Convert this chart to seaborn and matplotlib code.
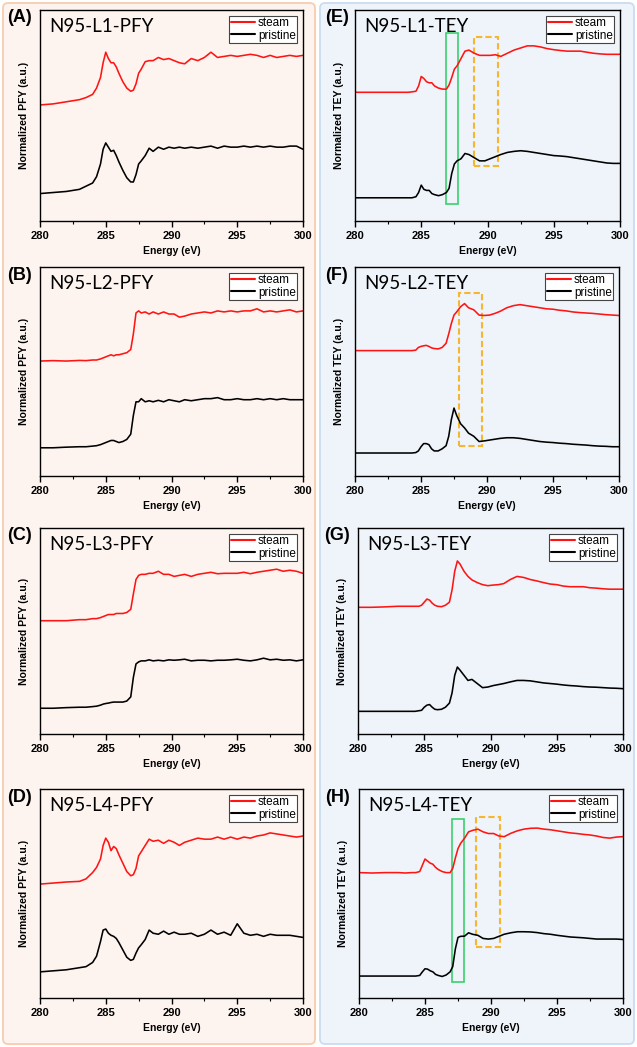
import pandas as pd
import matplotlib
matplotlib.use("Agg")
import matplotlib.pyplot as plt
import seaborn as sns
from matplotlib.patches import FancyBboxPatch, Rectangle
from matplotlib.ticker import MultipleLocator

# --- data (normalized intensity, % of axis height) ---
ENERGY = [280, 281, 282, 283, 283.5, 284, 284.3, 284.6, 284.8, 285, 285.2, 285.4, 285.6, 285.8,
          286, 286.3, 286.6, 286.9, 287.1, 287.3, 287.5, 287.7, 288, 288.3, 288.6, 289, 289.4,
          289.8, 290.2, 290.6, 291, 291.5, 292, 292.5, 293, 293.5, 294, 294.5, 295, 295.5, 296,
          296.5, 297, 297.5, 298, 298.5, 299, 299.5, 300]

A_STEAM = [55, 55.5, 56.5, 57.5, 58.5, 60, 63, 68, 75, 80, 77, 75, 75, 73, 70, 66, 63, 61.5, 62, 65,
           70, 72, 75.5, 76, 76, 77.5, 76.5, 77, 76, 75, 74.5, 77, 76, 77.5, 80, 77.5, 78, 78.5, 78,
           78.5, 79, 78.5, 77.5, 78.5, 77.5, 78, 78.5, 78, 78.5]
A_PRISTINE = [13, 13.5, 14, 15, 16.5, 18, 21, 27, 34, 37, 35, 33, 33.5, 31, 28, 24, 20.5, 18.5, 18.5,
              22, 27, 28.5, 31, 34.5, 33, 35, 34, 35, 34.5, 35, 34.5, 35, 34.5, 35, 35.5, 34.5, 35.5,
              35, 35, 35.5, 35, 35.5, 35, 35.5, 35, 35, 35.5, 35.5, 34]

B_STEAM = [55, 55.2, 55, 55.3, 55.2, 55.5, 55.5, 56, 56.5, 57, 57.5, 58, 57.5, 58, 58, 58.5, 59, 60.5,
           68, 78, 79, 78, 78.5, 77.5, 78.5, 77.5, 78.5, 77.5, 77.5, 76, 76.5, 77.5, 78, 78.5, 78,
           79, 78.5, 79, 78.5, 79, 79, 80, 78.5, 79, 78.5, 79, 79.5, 78.5, 79]
B_PRISTINE = [13.5, 13.5, 13.8, 14, 14, 14.3, 14.5, 15, 15.5, 16, 16.5, 17, 17, 16.5, 16, 16.5, 17.5,
              20, 29, 35.5, 35.5, 37, 35.5, 36, 35.5, 36.2, 35.5, 36.5, 36, 35.5, 36.5, 36, 36.5, 37,
              37, 37.5, 36.5, 36.5, 37, 36.5, 36.5, 37, 36.5, 37, 36.5, 37, 36.5, 36.5, 36.5]

C_STEAM = [55, 55, 55, 55.5, 55.5, 56, 56, 56.5, 57, 57.5, 58, 58, 58, 58.5, 58.5, 58.5, 59, 60.5, 68,
           75, 77, 77.5, 77.5, 78, 78, 79, 77.5, 77.5, 76.5, 77, 77.5, 76.5, 77.5, 78, 78.5, 77.8,
           78, 78, 78, 78.5, 77.8, 78.5, 79, 79.5, 80, 79, 79.5, 79, 78]
C_PRISTINE = [12.5, 12.5, 12.8, 13, 13, 13.3, 13.5, 14, 14.5, 14.8, 15, 15.3, 15.5, 15.5, 15.5, 15.5,
              16, 18, 27.5, 34, 35, 35.5, 35.5, 36, 35.5, 35.8, 35.5, 36, 35.8, 36, 36.3, 35.5, 35.8,
              35.8, 35.5, 35.8, 35.8, 36, 36.3, 35.8, 35.5, 36, 36.8, 36, 36.3, 35.8, 36, 35.5, 36]

D_STEAM = [54.5, 55, 55.5, 55.8, 57, 60, 62.5, 66.5, 73, 76.5, 74.5, 70.5, 72.5, 71.5, 68.5, 64.5,
           60.5, 58.5, 59, 62, 68, 70, 73, 76, 75, 75.5, 74, 75.5, 74.5, 73, 74.5, 75.5, 76.5, 76,
           76, 77, 76, 77, 76, 77, 76.5, 77.5, 78, 79, 78.5, 78, 77.5, 77, 77.5]
D_PRISTINE = [12.5, 13, 13.5, 14.5, 15, 17, 20, 27, 32.5, 33, 31, 30, 29.5, 28.5, 26.5, 23, 19.5, 18,
              18.5, 21.5, 24, 25.5, 28, 32.5, 31, 30.5, 32, 30.5, 31.5, 30.5, 30.5, 31, 29.5, 30.5,
              32.5, 30.5, 31.5, 30, 35.5, 31, 30, 30.5, 29.5, 30.5, 30, 30, 30, 29.5, 29]

E_STEAM = [61, 61, 61, 61, 61, 61, 61.2, 61.5, 64, 68.5, 67.5, 66, 65.5, 65.5, 64, 63, 62.5, 62.5,
           64.5, 68, 72, 73.5, 77, 80.5, 81, 79.5, 78.5, 78.5, 78.5, 78.8, 78, 79.5, 81, 82, 83, 83,
           82.5, 81.7, 81.2, 80.8, 80.5, 80.5, 80.5, 80, 79.5, 79.2, 79, 79, 79]
E_PRISTINE = [11, 11, 11, 11, 11, 11, 11, 11.5, 13.5, 17, 15, 14.5, 14.5, 13, 12.5, 12, 12.5, 13.5,
              15.5, 22.5, 27, 28.5, 29.5, 32, 31.5, 30, 28.5, 28.5, 29.5, 30.5, 31.5, 32.5, 33, 33.3,
              33, 32.5, 32, 31.5, 31, 30.8, 30.5, 30, 29.5, 29, 28.5, 28, 27.5, 27.3, 27.3]

F_STEAM = [60, 60, 60, 60, 60, 60, 60, 60.2, 61.5, 62, 62.3, 62.5, 62, 61.3, 61, 60.8, 61.5, 63.5, 68,
           73, 77, 78.5, 81, 82.5, 80.5, 79.5, 77, 76.8, 77, 77.8, 78.8, 80.5, 81.5, 82, 81.5, 81,
           80.5, 80, 79.8, 79.3, 79, 78.5, 78.2, 78, 77.8, 77.5, 77.2, 77, 76.8]
F_PRISTINE = [11, 11, 11, 11, 11, 11, 11, 11.2, 12, 14, 15.5, 15.5, 15, 13, 12, 12, 13, 14.5, 19, 27,
              32.5, 29, 25, 23, 20.5, 19, 16.5, 16.8, 17.2, 17.6, 18, 18.3, 18.3, 18, 17.5, 17, 16.5,
              16.2, 16, 15.7, 15.5, 15.2, 15, 14.8, 14.5, 14.3, 14.2, 14, 14]

G_STEAM = [61.5, 61.5, 61.7, 62, 62, 62, 62, 62, 62.5, 64, 65.5, 65, 63.5, 62.5, 62, 61.8, 62.5, 64,
           70, 79, 84, 82.5, 79, 76.5, 74.8, 73.5, 72.5, 72, 72.3, 72.5, 73, 75, 76.5, 76, 75, 74.3,
           73.5, 72.8, 72.5, 71.8, 71.5, 71.5, 71.5, 71, 70.8, 70.5, 70.3, 70.3, 70.3]
G_PRISTINE = [11, 11, 11, 11, 11, 11, 11, 11.3, 11.5, 13, 14, 14.3, 13, 12, 11.8, 12, 13, 15, 20, 28.5,
              32.5, 31, 28.5, 26, 26.5, 24.5, 22.5, 22.8, 23.5, 24, 24.5, 25.3, 26, 26, 25.8, 25.3,
              24.8, 24.5, 24.2, 23.8, 23.5, 23.3, 23, 22.8, 22.7, 22.5, 22.3, 22.2, 22]

H_STEAM = [60, 59.8, 60, 60, 59.8, 60, 60, 60.5, 63.5, 66.5, 65.5, 64.5, 64, 62.5, 61.5, 60.5, 60, 60,
           62, 67, 71.5, 74, 76.5, 79.5, 80.2, 80.8, 79.5, 78.7, 78.7, 77.5, 77.2, 78.8, 80, 80.8,
           81.2, 81.3, 80.8, 80.5, 80, 79.5, 79, 78.7, 78.3, 78, 77.5, 76.8, 76.5, 77, 77.2]
H_PRISTINE = [10.5, 10.5, 10.5, 10.5, 10.5, 10.5, 10.5, 10.8, 12.5, 14, 13.8, 13, 12.5, 11.3, 10.8,
              10.3, 11, 12.5, 15, 23.5, 29, 29.5, 29.6, 31.2, 30.5, 30, 28.5, 28.2, 28.5, 29.5, 30.5,
              31.2, 31.7, 31.7, 31.6, 31.3, 30.8, 30.5, 30, 29.6, 29.2, 29, 28.8, 28.5, 28.2, 28.2,
              28.2, 28.2, 28]

# highlight boxes: (panel, x0, x1, y0, y1, kind)
BOXES = [("E", 286.9, 287.8, 7.9, 88.9, "green"), ("E", 289.0, 290.8, 26.2, 87.4, "yellow"),
         ("F", 287.9, 289.6, 14.4, 87.5, "yellow"),
         ("H", 287.05, 287.95, 7.7, 85.6, "green"), ("H", 288.85, 290.7, 24.2, 86.6, "yellow")]

PANELS = [("A", "N95-L1-PFY", "PFY", A_STEAM, A_PRISTINE, 0, 0),
          ("B", "N95-L2-PFY", "PFY", B_STEAM, B_PRISTINE, 1, 0),
          ("C", "N95-L3-PFY", "PFY", C_STEAM, C_PRISTINE, 2, 0),
          ("D", "N95-L4-PFY", "PFY", D_STEAM, D_PRISTINE, 3, 0),
          ("E", "N95-L1-TEY", "TEY", E_STEAM, E_PRISTINE, 0, 1),
          ("F", "N95-L2-TEY", "TEY", F_STEAM, F_PRISTINE, 1, 1),
          ("G", "N95-L3-TEY", "TEY", G_STEAM, G_PRISTINE, 2, 1),
          ("H", "N95-L4-TEY", "TEY", H_STEAM, H_PRISTINE, 3, 1)]

sns.set_style("ticks")
plt.rcParams['font.family'] = ['Liberation Sans', 'DejaVu Sans']
plt.rcParams.update({"text.color": "black", "axes.labelcolor": "black",
                     "xtick.color": "black", "ytick.color": "black"})

W, H = 637, 1047
fig = plt.figure(figsize=(W / 100, H / 100), dpi=100)

# background boxes for the two columns
for x0, x1, fc, ec in [(3, 315, "#fdf4ef", "#f7cdb0"), (320, 634, "#eff4fa", "#c9dcf0")]:
    fig.patches.append(FancyBboxPatch((x0 / W, 3 / H), (x1 - x0) / W, 1041 / H,
                                      boxstyle="round,pad=0,rounding_size=0.008",
                                      mutation_aspect=W / H,
                                      transform=fig.transFigure, fc=fc, ec=ec, lw=1.3,
                                      zorder=-10))

tops = [10, 267, 528, 789]
bottoms = [221, 476, 734, 998]
lefts = {"A": 40, "B": 40, "C": 40, "D": 40, "E": 355, "F": 355, "G": 358, "H": 359}
rights = {"A": 303, "B": 303, "C": 303, "D": 303, "E": 620, "F": 619, "G": 623, "H": 623}
palette = {"steam": "#ff1414", "pristine": "black"}

for key, title, mode, steam, pristine, row, col in PANELS:
    l, r = lefts[key], rights[key]
    t, b = tops[row], bottoms[row]
    ax = fig.add_axes([l / W, (H - b) / H, (r - l) / W, (b - t) / H])
    ax.set_facecolor("none")
    ax.set_zorder(5)

    n = len(ENERGY)
    df = pd.DataFrame({"Energy": ENERGY * 2, "y": steam + pristine,
                       "sample": ["steam"] * n + ["pristine"] * n})
    sns.lineplot(data=df, x="Energy", y="y", hue="sample", palette=palette,
                 lw=1.15, ax=ax, sort=True)

    for pk, x0, x1, y0, y1, kind in BOXES:
        if pk != key:
            continue
        if kind == "green":
            ax.add_patch(Rectangle((x0, y0), x1 - x0, y1 - y0, fill=False, ec="#3ccf6e", lw=1.2))
        else:
            ax.add_patch(Rectangle((x0, y0), x1 - x0, y1 - y0, fill=False, ec="#f5b731",
                                   lw=1.5, ls=(0, (3, 1.5))))

    ax.set_xlim(280, 300)
    ax.set_ylim(0, 100)
    ax.set_yticks([])
    ax.xaxis.set_major_locator(MultipleLocator(5))
    ax.xaxis.set_minor_locator(MultipleLocator(2.5))
    ax.tick_params(axis="x", which="major", length=4, width=1, labelsize=8, pad=3)
    ax.tick_params(axis="x", which="minor", length=2.5, width=0.8)
    for lbl in ax.get_xticklabels():
        lbl.set_fontweight("bold")
    for sp in ax.spines.values():
        sp.set_color("black")
        sp.set_linewidth(1)

    ax.set_xlabel("Energy (eV)", fontsize=7.5, fontweight="bold", labelpad=4)
    ax.set_ylabel(f"Normalized {mode} (a.u.)", fontsize=7.5, fontweight="bold", labelpad=8)

    leg = ax.legend(loc="upper right", fontsize=8.5, frameon=True, fancybox=False,
                    edgecolor="#444444", framealpha=1, handlelength=2.1, handletextpad=0.2,
                    borderpad=0.12, labelspacing=0.02, borderaxespad=0.5)
    leg.get_frame().set_linewidth(0.8)
    for line in leg.get_lines():
        line.set_linewidth(1.5)

    ax.text(0.035, 0.92, title, transform=ax.transAxes, fontsize=13.5, family="Lato",
            va="center", ha="left")

    lx = 20 if col == 0 else 337
    fig.text(lx / W, (H - (t + 8)) / H, f"({key})", fontsize=13, fontweight="bold",
             ha="center", va="center", zorder=6)

fig.savefig("out.png", dpi=100)
